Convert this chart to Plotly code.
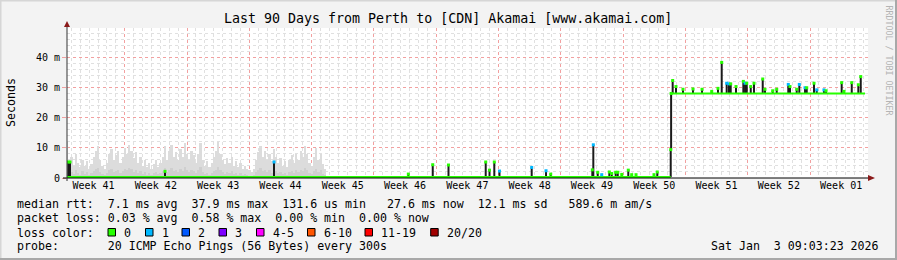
import plotly.graph_objects as go
import pandas as pd

# ---------------- data ----------------
TITLE = "Last 90 Days from Perth to [CDN] Akamai [www.akamai.com]"
X_RANGE = ["2025-10-06 12:24", "2026-01-04 12:24"]
Y_MAX = 49.7
y_tick_vals = [0, 10, 20, 30, 40]
y_tick_text = ["0", "10 m", "20 m", "30 m", "40 m"]

# smoke (ms), one value every 6 hours from smoke_start
smoke_start = "2025-10-06 12:24"
smoke_step = "6h"
smoke_hi = [12, 5, 7, 4, 8, 5, 3.5, 6, 4, 5.5, 3, 4.5, 7, 9, 10.5, 6, 4, 3, 5, 8,
            9.5, 6, 7.5, 9, 5, 7, 10, 8, 11, 9, 6.5, 8.5, 5, 7, 4, 6, 3.5, 5, 3, 4.5,
            6, 3.5, 5, 7, 10.5, 6, 9, 11, 7, 8.5, 6, 9.5, 7, 11.5, 8, 6, 9, 7.5, 5, 8,
            11.5, 6, 4, 5.5, 3.5, 5, 7, 9, 12, 8, 6, 4.5, 6.5, 5, 7, 4, 5.5, 3.5, 5, 3,
            4, 3, 2.5, 2, 3, 6, 8.5, 10.5, 7, 9, 6, 8, 5.5, 9.5, 7, 5, 6.5, 4, 5.5, 3.5,
            6, 7.5, 5, 8, 6, 9, 7, 10.5, 8, 5, 4, 7, 10, 6, 8, 4.5, 3]
smoke_lo = [3.0, 1.5, 2.0, 1.2, 2.5, 1.8, 1.0, 2.2, 1.4, 1.9, 1.1, 1.6, 2.4, 3.0, 3.2, 2.0, 1.3, 1.0, 1.7, 2.6,
            3.0, 2.0, 2.4, 2.8, 1.6, 2.2, 3.1, 2.6, 3.4, 2.9, 2.0, 2.6, 1.6, 2.2, 1.3, 1.9, 1.1, 1.6, 1.0, 1.5,
            1.9, 1.2, 1.6, 2.2, 3.2, 1.9, 2.8, 3.4, 2.2, 2.6, 1.9, 2.9, 2.2, 3.5, 2.5, 1.9, 2.8, 2.3, 1.6, 2.5,
            3.5, 1.9, 1.3, 1.7, 1.1, 1.6, 2.2, 2.8, 3.6, 2.5, 1.9, 1.4, 2.0, 1.6, 2.2, 1.3, 1.7, 1.1, 1.6, 1.0,
            1.3, 1.0, 0.8, 0.7, 1.0, 1.9, 2.6, 3.2, 2.2, 2.8, 1.9, 2.5, 1.7, 2.9, 2.2, 1.6, 2.0, 1.3, 1.7, 1.1,
            1.9, 2.3, 1.6, 2.5, 1.9, 2.8, 2.2, 3.2, 2.5, 1.6, 1.3, 2.2, 3.0, 1.9, 2.5, 1.4, 1.0]

# median baseline levels (ms)
level_start = ["2025-10-06 12:24", "2025-12-13 09:30"]
level_end = ["2025-12-13 08:25", "2026-01-04 04:20"]
level_value = [0.3, 28.0]

# median excursions: time, value (ms), level it rises from, loss class
spike_time = [
    "2025-10-06 15:55", "2025-10-06 20:30", "2025-10-17 12:40", "2025-10-29 18:40",
    "2025-11-13 20:50", "2025-11-16 14:40", "2025-11-18 09:10", "2025-11-22 13:30",
    "2025-11-22 23:45", "2025-11-23 12:40", "2025-11-24 02:40", "2025-11-27 17:30",
    "2025-11-29 08:10", "2025-11-29 20:50", "2025-12-04 13:00", "2025-12-04 15:40",
    "2025-12-05 03:35", "2025-12-05 14:25", "2025-12-06 10:50", "2025-12-06 17:20",
    "2025-12-07 04:05", "2025-12-07 09:35", "2025-12-07 20:25", "2025-12-08 14:00",
    "2025-12-08 23:15", "2025-12-09 10:50", "2025-12-11 11:20", "2025-12-11 20:10",
    "2025-12-13 08:25", "2025-12-13 09:30",
    "2025-12-13 13:40", "2025-12-13 22:35", "2025-12-14 17:30", "2025-12-15 20:25",
    "2025-12-16 20:50", "2025-12-17 23:00", "2025-12-18 15:50", "2025-12-19 01:55",
    "2025-12-19 15:20", "2025-12-19 21:35", "2025-12-20 02:10", "2025-12-20 16:30",
    "2025-12-21 12:15", "2025-12-21 16:50", "2025-12-21 21:25", "2025-12-22 08:10",
    "2025-12-22 17:00", "2025-12-23 16:30", "2025-12-23 22:35", "2025-12-24 19:25",
    "2025-12-25 06:15", "2025-12-26 13:25", "2025-12-26 18:00", "2025-12-27 12:10",
    "2025-12-27 19:10", "2025-12-28 10:35", "2025-12-28 15:10", "2025-12-29 10:50",
    "2025-12-29 18:10", "2025-12-30 13:40", "2025-12-30 19:10", "2026-01-01 13:25",
    "2026-01-01 19:40", "2026-01-02 16:35", "2026-01-03 10:20", "2026-01-03 16:50",
]
spike_value = [
    5.3, 5.3, 2.2, 5.3,
    1.3, 4.4, 4.3, 5.3,
    2.6, 5.3, 2.3, 3.5,
    2.4, 1.3, 2.7, 11.0,
    1.9, 1.1, 2.0, 1.5,
    1.9, 1.9, 1.2, 2.6,
    1.1, 1.1, 1.1, 2.0,
    9.4, 28.0,
    32.3, 30.3, 29.4, 29.5,
    29.4, 28.7, 29.7, 38.3,
    31.4, 31.2, 31.2, 30.3,
    32.0, 31.4, 31.4, 30.3,
    31.4, 32.8, 29.4, 28.9,
    29.4, 31.0, 30.3, 29.4,
    31.0, 29.9, 29.9, 31.4,
    29.2, 29.2, 28.9, 31.6,
    28.7, 31.6, 30.9, 33.6,
]
spike_base = [0.3] * 29 + [9.4] + [28.0] * 36
spike_loss = [
    0, 0, 0, 1,
    0, 0, 0, 0,
    0, 0, 1, 1,
    1, 0, 0, 1,
    0, 1, 0, 0,
    0, 0, 0, 0,
    0, 0, 0, 0,
    0, 0,
    0, 0, 0, 0,
    0, 0, 0, 0,
    1, 1, 0, 0,
    0, 1, 0, 0,
    0, 0, 0, 0,
    0, 1, 0, 0,
    1, 1, 0, 0,
    1, 1, 0, 0,
    0, 0, 0, 0,
]

loss_labels = ["0", "1", "2", "3", "4-5", "6-10", "11-19", "20/20"]
loss_colors = ["#26ff00", "#00b8ff", "#0059ff", "#7e00ff", "#ff00ff", "#ff5500", "#ff0000", "#a10000"]

legend_median = "median rtt:  7.1 ms avg  37.9 ms max  131.6 us min   27.6 ms now  12.1 ms sd   589.6 m am/s"
legend_loss = "packet loss: 0.03 % avg  0.58 % max  0.00 % min  0.00 % now"
legend_color_head = "loss color:"
legend_probe = "probe:       20 ICMP Echo Pings (56 Bytes) every 300s"
stamp = "Sat Jan  3 09:03:23 2026"
side_text = "RRDTOOL / TOBI OETIKER"

# ---------------- geometry helpers (layout only) ----------------
W, H = 897, 260
ML, MR, MT, MB = 67, 29, 28, 82
PW, PH = W - ML - MR, H - MT - MB


def px(x):
    return (x - ML) / PW


def py(y):
    return (H - MB - y) / PH


FONT = "DejaVu Sans Mono"

fig = go.Figure()

smoke_t = pd.date_range(smoke_start, periods=len(smoke_hi), freq=smoke_step)
smoke_t_lo = pd.date_range(smoke_start, periods=len(smoke_lo), freq=smoke_step)
bar_w = pd.Timedelta(smoke_step).total_seconds() * 1000

fig.add_trace(go.Bar(x=smoke_t, y=smoke_hi, width=bar_w, marker=dict(color="#dcdcdc", line=dict(width=0)),
                     hoverinfo="skip"))
fig.add_trace(go.Bar(x=smoke_t_lo, y=smoke_lo, width=bar_w, marker=dict(color="#cfcfcf", line=dict(width=0)),
                     hoverinfo="skip"))

# excursions (black verticals)
sx, sy = [], []
for t, v, b in zip(spike_time, spike_value, spike_base):
    sx += [t, t, None]
    sy += [b, v, None]
fig.add_trace(go.Scatter(x=sx, y=sy, mode="lines", line=dict(color="#1a1a1a", width=2), hoverinfo="skip"))

# baseline (loss 0)
lx, ly = [], []
for a, e, v in zip(level_start, level_end, level_value):
    lx += [a, e, None]
    ly += [v, v, None]
fig.add_trace(go.Scatter(x=lx, y=ly, mode="lines", line=dict(color=loss_colors[0], width=2), hoverinfo="skip"))

# tops coloured by loss
fig.add_trace(go.Scatter(x=spike_time, y=spike_value, mode="markers",
                         marker=dict(symbol="square", size=3, color=[loss_colors[i] for i in spike_loss],
                                     line=dict(width=0)),
                         hoverinfo="skip"))

shapes = []
# frame
shapes.append(dict(type="line", xref="paper", yref="paper", x0=px(0), x1=px(W), y0=py(0.5), y1=py(0.5),
                   line=dict(color="#d6d6d6", width=2)))
shapes.append(dict(type="line", xref="paper", yref="paper", x0=px(0.5), x1=px(0.5), y0=py(0), y1=py(H),
                   line=dict(color="#d6d6d6", width=2)))
shapes.append(dict(type="line", xref="paper", yref="paper", x0=px(0), x1=px(W), y0=py(H - 1), y1=py(H - 1),
                   line=dict(color="#a8a8a8", width=2)))
shapes.append(dict(type="line", xref="paper", yref="paper", x0=px(W - 1), x1=px(W - 1), y0=py(0), y1=py(H),
                   line=dict(color="#a8a8a8", width=2)))
# axes
shapes.append(dict(type="line", xref="paper", yref="paper", x0=px(63), x1=px(869), y0=py(178), y1=py(178),
                   line=dict(color="#000000", width=1)))
shapes.append(dict(type="line", xref="paper", yref="paper", x0=px(67), x1=px(67), y0=py(181), y1=py(25),
                   line=dict(color="#333333", width=1)))
shapes.append(dict(type="path", xref="paper", yref="paper",
                   path="M {} {} L {} {} L {} {} Z".format(px(868), py(175), px(875), py(178), px(868), py(181)),
                   fillcolor="#8b1a1a", line=dict(width=0)))
shapes.append(dict(type="path", xref="paper", yref="paper",
                   path="M {} {} L {} {} L {} {} Z".format(px(64), py(27), px(67), py(21), px(70), py(27)),
                   fillcolor="#8b1a1a", line=dict(width=0)))

annotations = []


def text(x, y, s, size=11.6, anchor="left", color="#000000", angle=0):
    annotations.append(dict(xref="paper", yref="paper", x=px(x), y=py(y), text=s, showarrow=False,
                            xanchor=anchor, yanchor="middle", textangle=angle,
                            font=dict(family=FONT, size=size, color=color)))


text(447.5, 19, TITLE, size=13.3, anchor="center")
text(11, 103, "Seconds", size=11.6, anchor="center", angle=-90)
text(888.5, 60, side_text, size=8.3, anchor="center", color="#b4b4b4", angle=90)
text(15, 204, legend_median.replace(" ", "&nbsp;"))
text(15, 218, legend_loss.replace(" ", "&nbsp;"))
text(15, 232.5, legend_color_head)
text(15, 246, legend_probe.replace(" ", "&nbsp;"))
text(881, 246, stamp.replace(" ", "&nbsp;"), anchor="right")

box_left = [108, 145.5, 182, 219, 256.5, 307.5, 365, 430.7]
for bl, lab, col in zip(box_left, loss_labels, loss_colors):
    shapes.append(dict(type="rect", xref="paper", yref="paper", x0=px(bl), x1=px(bl + 7.5),
                       y0=py(236), y1=py(228.5), fillcolor=col, line=dict(color="#000000", width=1)))
    text(bl + 14, 232.5, lab)

fig.update_layout(
    width=W, height=H, autosize=False,
    margin=dict(l=ML, r=MR, t=MT, b=MB, pad=0),
    paper_bgcolor="#f3f3f3", plot_bgcolor="#ffffff",
    barmode="overlay", bargap=0, showlegend=False,
    shapes=shapes, annotations=annotations,
    xaxis=dict(type="date", range=X_RANGE, tick0="2025-10-06", dtick=7 * 86400000,
               ticklabelmode="period", tickformat="Week %V", showgrid=True,
               gridcolor="#f2a0a0", griddash="dot", gridwidth=1, zeroline=False, showline=False,
               ticks="", tickfont=dict(family=FONT, size=10, color="#000000"),
               minor=dict(dtick=86400000, tick0="2025-10-06", showgrid=True, gridcolor="#e0e0e0",
                          griddash="dot", gridwidth=1)),
    yaxis=dict(range=[0, Y_MAX], tickvals=y_tick_vals, ticktext=y_tick_text, showgrid=True,
               gridcolor="#f2a0a0", griddash="dot", gridwidth=1, zeroline=False, showline=False,
               ticks="outside", ticklen=4, tickcolor="#f2a0a0",
               tickfont=dict(family=FONT, size=10, color="#000000"),
               minor=dict(dtick=2, showgrid=True, gridcolor="#e0e0e0", griddash="dot", gridwidth=1)),
)

fig.write_html("out.html")
